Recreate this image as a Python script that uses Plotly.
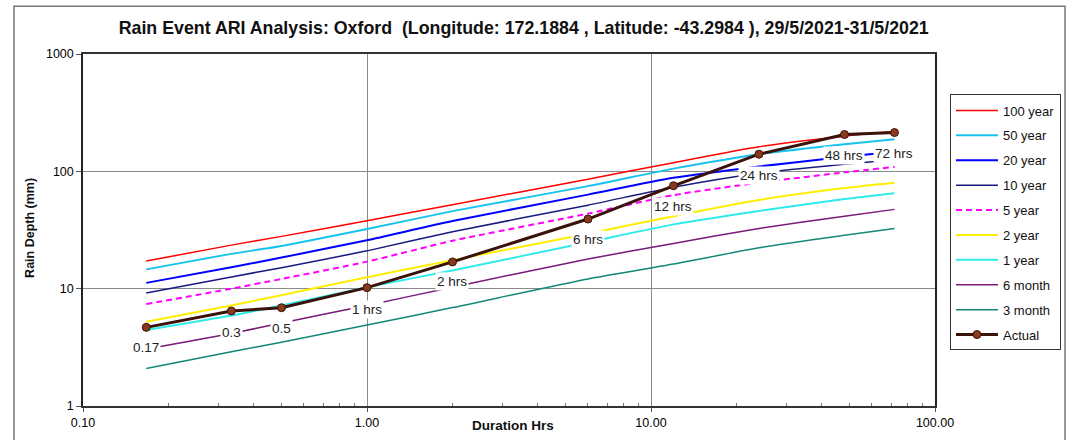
import numpy as np
import plotly.graph_objects as go

# ---------------- data ----------------
durations = [0.167, 0.333, 0.5, 1, 2, 6, 12, 24, 48, 72]

ari_names = ["100 year", "50 year", "20 year", "10 year", "5 year",
             "2 year", "1 year", "6 month", "3 month"]

ari_100yr = [17.2, 23.5, 27.9, 37.9, 52.0, 85.8, 118.6, 162, 199.5, 218]
ari_50yr = [14.6, 19.8, 23.1, 32.2, 45.8, 74.8, 105.5, 140, 170.5, 188]
ari_20yr = [11.2, 15.2, 18.4, 25.9, 37.7, 63.3, 88, 110, 133, 147]
ari_10yr = [9.2, 12.6, 15.1, 21.0, 30.6, 51.5, 73.3, 96.5, 115, 125.8]
ari_5yr = [7.39, 10.0, 12.1, 17.0, 25.6, 43.6, 62.7, 80, 98, 109]
ari_2yr = [5.22, 7.2, 8.8, 12.5, 17.5, 29.4, 41.5, 57, 72, 80]
ari_1yr = [4.44, 5.9, 7.2, 10.3, 14.3, 24.9, 35.3, 46, 58, 65]
ari_6mo = [3.06, 4.15, 5.1, 7.2, 10.3, 17.9, 24.3, 32.6, 41.5, 47.4]
ari_3mo = [2.09, 2.9, 3.5, 4.9, 6.9, 12.1, 16.2, 22.3, 28.5, 32.6]

actual = [4.68, 6.45, 6.88, 10.2, 16.9, 39.2, 75.3, 140, 206, 214]

duration_labels = ["0.17", "0.3", "0.5", "1 hrs", "2 hrs", "6 hrs",
                   "12 hrs", "24 hrs", "48 hrs", "72 hrs"]
label_y = [3.16, 4.21, 4.59, 6.70, 11.5, 26.3, 50.5, 92.9, 137, 142]

x_tickvals = [0.1, 1, 10, 100]
x_ticktext = ["0.10", "1.00", "10.00", "100.00"]
y_tickvals = [1, 10, 100, 1000]
y_ticktext = ["1", "10", "100", "1000"]

title_text = ("Rain Event ARI Analysis: Oxford  (Longitude: 172.1884 , "
              "Latitude: -43.2984 ), 29/5/2021-31/5/2021")
x_title = "Duration Hrs"
y_title = "Rain Depth (mm)"

# ---------------- styles ----------------
ari_series = [ari_100yr, ari_50yr, ari_20yr, ari_10yr, ari_5yr,
              ari_2yr, ari_1yr, ari_6mo, ari_3mo]
ari_colors = ["#FF0000", "#17C3EE", "#0000FF", "#1A1A80", "#FF00FF",
              "#FFEE00", "#2EEAEA", "#7A1A7A", "#13877A"]
ari_widths = [1.5, 2, 2, 1.5, 2, 2, 2, 1.5, 1.5]
ari_dash = ["solid", "solid", "solid", "solid", "6px,4px",
            "solid", "solid", "solid", "solid"]

FONT = "Liberation Sans, Arial, sans-serif"

fig = go.Figure()
for name, vals, col, w, dsh in zip(ari_names, ari_series, ari_colors,
                                   ari_widths, ari_dash):
    fig.add_trace(go.Scatter(
        x=durations, y=vals, mode="lines", name=name, legendgroup=name,
        line=dict(color=col, width=w, dash=dsh, shape="spline",
                  smoothing=0.6)))

fig.add_trace(go.Scatter(
    x=durations, y=actual, mode="lines+markers", name="Actual",
    legendgroup="Actual",
    line=dict(color="#3A120A", width=3),
    marker=dict(color="#8A3A1C", size=8, symbol="circle",
                line=dict(color="#3A120A", width=1))))

for d, txt, ly in zip(durations, duration_labels, label_y):
    fig.add_annotation(
        x=np.log10(d), y=np.log10(ly), xref="x", yref="y", text=txt,
        showarrow=False, bgcolor="white", borderpad=1,
        font=dict(family=FONT, size=13.5, color="#222222"))

# axis titles placed as paper annotations (x title sits on the tick-label row)
fig.add_annotation(x=0.505, y=-0.054, xref="paper", yref="paper",
                   text="<b>" + x_title + "</b>", showarrow=False,
                   xanchor="center", yanchor="middle",
                   font=dict(family=FONT, size=13.5, color="#111111"))
fig.add_annotation(x=-0.0622, y=0.506, xref="paper", yref="paper",
                   text="<b>" + y_title + "</b>", showarrow=False,
                   textangle=-90, xanchor="center", yanchor="middle",
                   font=dict(family=FONT, size=12.5, color="#111111"))

fig.update_layout(
    width=1071, height=440,
    margin=dict(l=83, r=136, t=54, b=34, autoexpand=False),
    paper_bgcolor="white", plot_bgcolor="white",
    font=dict(family=FONT, size=12, color="#000000"),
    title=dict(text="<b>" + title_text + "</b>", x=0.489, xanchor="center",
               y=0.938, yanchor="middle",
               font=dict(family=FONT, size=17.8, color="#111111")),
    showlegend=True,
    legend=dict(x=1.0176, y=0.885, xanchor="left", yanchor="top",
                bordercolor="#333333", borderwidth=1, bgcolor="white",
                tracegroupgap=5.0, itemwidth=42,
                font=dict(family=FONT, size=13, color="#111111")),
)

fig.update_xaxes(
    type="log", range=[-1, 2], automargin=False,
    tickvals=x_tickvals, ticktext=x_ticktext,
    showgrid=True, gridcolor="#8A8A8A", gridwidth=1,
    showline=True, linecolor="#333333", linewidth=1.5, mirror=True,
    ticks="outside", ticklen=4, tickcolor="#555555",
    minor=dict(ticks="inside", ticklen=3, tickcolor="#777777",
               tickvals=[m * 10 ** k for k in (-1, 0, 1) for m in range(2, 10)],
               showgrid=False),
    tickfont=dict(family=FONT, size=12.5),
    zeroline=False)

fig.update_yaxes(
    type="log", range=[0, 3], automargin=False,
    tickvals=y_tickvals, ticktext=y_ticktext,
    showgrid=True, gridcolor="#8A8A8A", gridwidth=1,
    showline=True, linecolor="#222222", linewidth=1.5, mirror=True,
    ticks="outside", ticklen=5, tickcolor="#555555",
    tickfont=dict(family=FONT, size=12.5),
    zeroline=False)

# outer chart frame
fig.add_shape(type="rect", xref="paper", yref="paper",
              x0=-0.081, x1=1.1526, y0=-0.2, y1=1.136,
              line=dict(color="#777777", width=1.5), fillcolor="rgba(0,0,0,0)",
              layer="below")

fig.write_html("out.html")
